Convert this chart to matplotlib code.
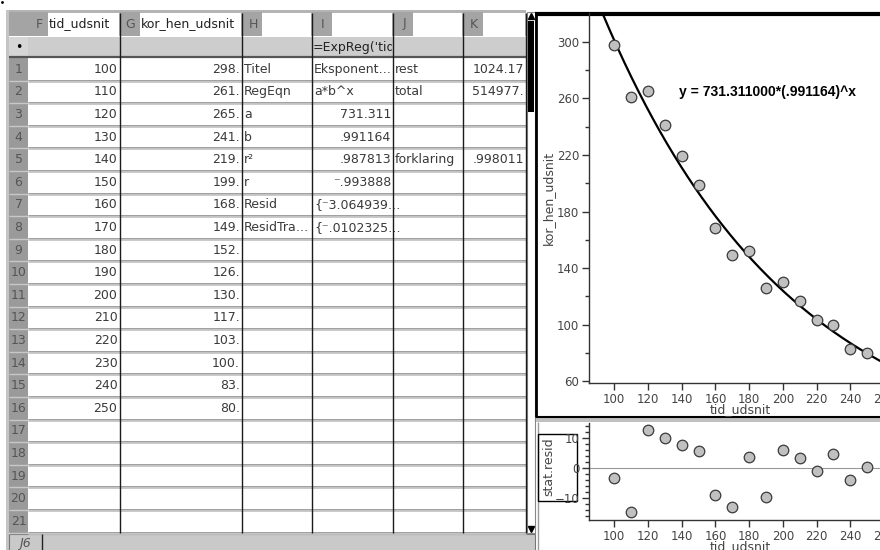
import matplotlib.pyplot as plt
import numpy as np
from matplotlib.patches import Rectangle

# data
tid = [100, 110, 120, 130, 140, 150, 160, 170, 180, 190, 200, 210, 220, 230, 240, 250]
kor = [298, 261, 265, 241, 219, 199, 168, 149, 152, 126, 130, 117, 103, 100, 83, 80]
resid = [-3.1, -14.6, 12.7, 10.2, 7.7, 5.8, -9.0, -12.9, 3.8, -9.6, 6.0, 3.4, -1.0, 4.9, -4.0, 0.4]
a = 731.311
b = 0.991164

col_letters = ['F', 'G', 'H', 'I', 'J', 'K']
col_names = ['tid_udsnit', 'kor_hen_udsnit', '', '', '', '']
col_h = ['Titel', 'RegEqn', 'a', 'b', 'r²', 'r', 'Resid', 'ResidTra…']
col_i = ['Eksponent…', 'a*b^x', '731.311', '.991164', '.987813', '⁻.993888', '{⁻3.064939…', '{⁻.0102325…']
col_j = ['rest', 'total', '', '', 'forklaring']
col_k = ['1024.17', '514977.', '', '', '.998011']
formula_i = "=ExpReg('tid_udsnit',kor_hen_udsnit)"

plt.rcParams['font.family'] = ['DejaVu Sans']

fig = plt.figure(figsize=(8.8, 5.5), dpi=100)
bg = fig.add_axes([0, 0, 1, 1])
bg.set_xlim(0, 880)
bg.set_ylim(550, 0)
bg.axis('off')


def box(x0, y0, x1, y1, fc, ec='none', lw=0, z=1):
    r = Rectangle((x0, y0), x1 - x0, y1 - y0, facecolor=fc, edgecolor=ec, linewidth=lw, zorder=z)
    bg.add_patch(r)
    return r


def line(xs, ys, c, lw, z=3):
    bg.plot(xs, ys, color=c, lw=lw, zorder=z, solid_capstyle='butt')


# ---- spreadsheet ----
xs = [9, 28, 119.5, 242, 312, 393, 463, 526]
y0 = 58
rh = 22.6
nrows = 21
yend = y0 + nrows * rh
txt = '#3a3a3a'

bg.plot(2, 2, 'k.', ms=2)
box(6, 10, 9, 550, '#c4c4c4')
# header row
box(9, 10, 526, 35.5, '#b4b4b4')
for i in range(6):
    xa = xs[i + 1]
    xb = xs[i + 2]
    box(xa, 12, xa + 20, 35.5, '#a4a4a4', z=2)
    bg.text(xa + 11, 24, col_letters[i], ha='center', va='center', fontsize=9, color='#555555', zorder=4)
    box(xa + 20, 13, xb - 1, 35.5, 'white', z=2)
    bg.text(xa + 21, 24, col_names[i], ha='left', va='center', fontsize=9, color='#222222', zorder=4)
box(9, 12, 28, 35.5, '#a4a4a4', z=2)

# formula row
box(9, 36.5, 526, 57, '#cdcdcd')
box(9, 36.5, 28, 57, '#d6d6d6', z=2)
bg.text(18.5, 47, '•', ha='center', va='center', fontsize=9, color='black', zorder=4)
ft = bg.text(xs[4] + 1, 47, formula_i, ha='left', va='center', fontsize=9, color='#222222',
             zorder=4, clip_on=True)
clip = Rectangle((xs[4], 36), xs[5] - xs[4] - 1, 22, transform=bg.transData)
ft.set_clip_path(clip)
line([9, 526], [57.3, 57.3], '#555555', 1.6)

# data rows
box(28, y0, 526, yend, 'white')
box(9, y0, 28, yend, '#9a9a9a')
for k in range(1, nrows + 1):
    yy = y0 + k * rh
    line([28, 526], [yy, yy], '#c4c4c4', 2.0, z=2)
    line([28, 526], [yy - 1, yy - 1], '#9a9a9a', 0.6, z=2)
    line([9, 28], [yy, yy], '#c8c8c8', 1.0, z=2)
for x in xs[2:]:
    line([x, x], [13, yend], '#1a1a1a', 1.0, z=3)


def cell(col, r, s):
    if s == '':
        return
    yc = y0 + (r + 0.5) * rh
    if s[0] in '0123456789.⁻':
        bg.text(xs[col + 1] - 2, yc, s, ha='right', va='center', fontsize=9, color=txt, zorder=4)
    else:
        bg.text(xs[col] + 2, yc, s, ha='left', va='center', fontsize=9, color=txt, zorder=4)


for r in range(nrows):
    yc = y0 + (r + 0.5) * rh
    bg.text(18.5, yc, str(r + 1), ha='center', va='center', fontsize=9, color='#555555', zorder=4)
for r in range(len(tid)):
    cell(1, r, str(tid[r]))
    cell(2, r, str(kor[r]) + '.')
for r in range(len(col_h)):
    cell(3, r, col_h[r])
    cell(4, r, col_i[r])
for r in range(len(col_j)):
    cell(5, r, col_j[r])
    cell(6, r, col_k[r])

# scrollbar
box(527, 12, 535, yend, 'white', ec='#888888', lw=0.8)
box(528, 21, 534, 112, 'black', z=3)
bg.plot(531, 16, marker='^', ms=4, color='black', zorder=4)
bg.plot(531, yend - 4, marker='v', ms=4, color='black', zorder=4)

# bottom status bar
box(9, 534, 535, 551, '#c9c9c9', ec='#777777', lw=0.8)
line([42, 42], [534, 550], '#222222', 1.0)
bg.text(25, 544, 'J6', ha='center', va='center', fontsize=9, style='italic', color='#555555', zorder=4)

# ---- right panel frames ----
line([535, 880], [13.5, 13.5], 'black', 3.0)
line([536, 536], [12, 417], 'black', 2.0)
line([536, 880], [416.5, 416.5], 'black', 1.5)
box(536, 418, 880, 422, '#c0c0c0')
line([537.5, 537.5], [422, 550], '#9a9a9a', 1.0)


def px_axes(x0, y0, x1, y1):
    return fig.add_axes([x0 / 880, 1 - y1 / 550, (x1 - x0) / 880, (y1 - y0) / 550])


def style(ax):
    ax.set_facecolor('none')
    for s in ['top', 'right']:
        ax.spines[s].set_visible(False)
    for s in ['left', 'bottom']:
        ax.spines[s].set_color('#333333')
        ax.spines[s].set_linewidth(1.0)
    ax.tick_params(which='major', direction='out', length=5, width=1, color='#333333',
                   labelcolor='#444444', labelsize=8.5, pad=2)
    ax.tick_params(which='minor', direction='out', length=3, width=1, color='#333333')
    ax.set_xticks(range(100, 261, 20))
    ax.set_xlim(85, 263.6)


# main scatter plot
ax = px_axes(589, 13, 890, 383.3)
style(ax)
ax.set_ylim(58.4, 320.5)
ax.set_yticks(range(60, 301, 40))
ax.set_yticks(range(80, 301, 40), minor=True)
xx = np.linspace(85, 264, 300)
ax.plot(xx, a * b ** xx, color='black', lw=1.6, zorder=2)
ax.plot(tid, kor, 'o', ms=7.6, mfc='#c0c0c0', mec='#3a3a3a', mew=0.9, zorder=3)

# residual plot
ax2 = px_axes(589, 423, 890, 520)
style(ax2)
ax2.set_ylim(-17.2, 15.1)
ax2.set_yticks([-10, 0, 10])
ax2.set_yticks([v for v in range(-16, 16, 2) if v % 10 != 0], minor=True)
ax2.axhline(0, color='#999999', lw=0.8, zorder=1)
ax2.plot(tid, resid, 'o', ms=7.6, mfc='#c0c0c0', mec='#3a3a3a', mew=0.9, zorder=3)

# labels
bg.text(548, 198, 'kor_hen_udsnit', rotation=90, ha='center', va='center', fontsize=9, color='#444444')
bg.text(740, 410, 'tid_udsnit', ha='center', va='center', fontsize=9, color='#444444')
bg.text(740, 547, 'tid_udsnit', ha='center', va='center', fontsize=9, color='#444444')
box(538, 434, 577, 501, 'none', ec='black', lw=1.0, z=3)
bg.text(549, 467, 'stat.resid', rotation=90, ha='center', va='center', fontsize=9, color='#444444')
eq = 'y = %.6f*(%s)^x' % (a, str(b)[1:])
bg.text(679, 92, eq, ha='left', va='center', fontsize=10, fontweight='bold',
        family=['Liberation Sans', 'DejaVu Sans'], color='black')

fig.savefig('out.png', dpi=100)
